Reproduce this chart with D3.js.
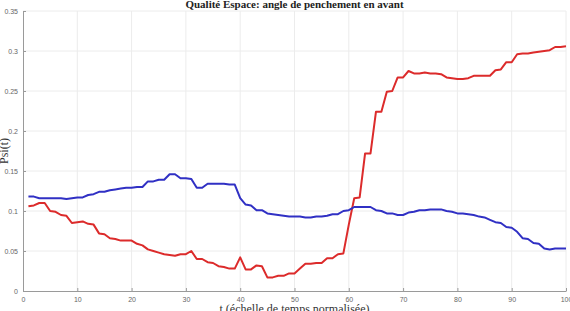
<!DOCTYPE html>
<html>
<head>
<meta charset="utf-8">
<script src="https://cdn.jsdelivr.net/npm/d3@7"></script>
<style>
    body { margin: 0; background: #fff; }
    svg { display: block; }
</style>
</head>
<body>
<svg id="chart"></svg>
<script>
const titleText = 'Qualité Espace: angle de penchement en avant';
const xLabelText = 't (échelle de temps normalisée)';
const yLabelText = 'Psi(t)';

const xTicks = [0, 10, 20, 30, 40, 50, 60, 70, 80, 90, 100];
const yTicks = [0, 0.05, 0.1, 0.15, 0.2, 0.25, 0.3, 0.35];

const timeSteps = d3.range(1, 101);

const blueValues = [
    0.118, 0.118, 0.116, 0.116, 0.116, 0.116, 0.116, 0.115, 0.116, 0.117,
    0.117, 0.120, 0.121, 0.124, 0.124, 0.126, 0.127, 0.128, 0.129, 0.129,
    0.130, 0.130, 0.137, 0.137, 0.139, 0.139, 0.146, 0.146, 0.141, 0.141,
    0.140, 0.129, 0.129, 0.134, 0.134, 0.134, 0.134, 0.133, 0.133, 0.116,
    0.108, 0.107, 0.101, 0.101, 0.097, 0.096, 0.095, 0.094, 0.093, 0.093,
    0.093, 0.092, 0.092, 0.093, 0.093, 0.094, 0.096, 0.096, 0.100, 0.101,
    0.105, 0.105, 0.105, 0.105, 0.101, 0.100, 0.097, 0.097, 0.095, 0.095,
    0.098, 0.099, 0.101, 0.101, 0.102, 0.102, 0.102, 0.100, 0.099, 0.097,
    0.097, 0.096, 0.095, 0.093, 0.092, 0.089, 0.086, 0.085, 0.080, 0.079,
    0.074, 0.066, 0.065, 0.060, 0.059, 0.053, 0.052, 0.053, 0.053, 0.053
];

const redValues = [
    0.106, 0.107, 0.110, 0.110, 0.100, 0.099, 0.095, 0.094, 0.085, 0.086,
    0.087, 0.084, 0.083, 0.072, 0.071, 0.066, 0.065, 0.063, 0.063, 0.063,
    0.059, 0.057, 0.052, 0.050, 0.048, 0.046, 0.045, 0.044, 0.046, 0.046,
    0.050, 0.040, 0.040, 0.036, 0.035, 0.031, 0.030, 0.028, 0.028, 0.042,
    0.027, 0.027, 0.032, 0.031, 0.017, 0.017, 0.019, 0.019, 0.022, 0.022,
    0.028, 0.034, 0.034, 0.035, 0.035, 0.041, 0.041, 0.046, 0.047, 0.083,
    0.116, 0.117, 0.172, 0.172, 0.224, 0.224, 0.249, 0.250, 0.267, 0.267,
    0.275, 0.272, 0.272, 0.273, 0.272, 0.272, 0.271, 0.267, 0.266, 0.265,
    0.265, 0.266, 0.269, 0.269, 0.269, 0.269, 0.276, 0.277, 0.286, 0.286,
    0.296, 0.297, 0.297, 0.298, 0.299, 0.300, 0.301, 0.305, 0.305, 0.306
];

const totalWidth = 570;
const totalHeight = 311;
const margin = { top: 11, right: 4, bottom: 20, left: 23 };
const width = totalWidth - margin.left - margin.right;
const height = totalHeight - margin.top - margin.bottom;

const svgRoot = d3.select('#chart')
    .attr('width', totalWidth)
    .attr('height', totalHeight);

const svg = svgRoot.append('g')
    .attr('transform', `translate(${margin.left},${margin.top})`);

const x = d3.scaleLinear().domain([0, 100]).range([0, width]);
const y = d3.scaleLinear().domain([0, 0.35]).range([height, 0]);

// grid
svg.append('g')
    .selectAll('line')
    .data(xTicks.slice(1))
    .enter()
    .append('line')
    .attr('x1', d => x(d)).attr('x2', d => x(d))
    .attr('y1', 0).attr('y2', height)
    .attr('stroke', '#ececec')
    .attr('stroke-width', 1);

svg.append('g')
    .selectAll('line')
    .data(yTicks.slice(1))
    .enter()
    .append('line')
    .attr('x1', 0).attr('x2', width)
    .attr('y1', d => y(d)).attr('y2', d => y(d))
    .attr('stroke', '#ececec')
    .attr('stroke-width', 1);

// axes, ticks inside like matlab
const xAxis = svg.append('g')
    .attr('transform', `translate(0,${height})`)
    .call(d3.axisBottom(x).tickValues(xTicks).tickSizeInner(-3).tickSizeOuter(0).tickPadding(6));

const yAxis = svg.append('g')
    .call(d3.axisLeft(y).tickValues(yTicks).tickFormat(d => d3.format('')(+d.toFixed(2))).tickSizeInner(-3).tickSizeOuter(0).tickPadding(5));

[xAxis, yAxis].forEach(axis => {
    axis.select('.domain').attr('stroke', '#9a9a9a');
    axis.selectAll('.tick line').attr('stroke', '#9a9a9a');
    axis.selectAll('.tick text')
        .attr('fill', '#666')
        .style('font-family', 'Liberation Sans, Arial, sans-serif')
        .style('font-size', '7px');
});

// lines
const line = d3.line()
    .x((d, i) => x(timeSteps[i]))
    .y(d => y(d));

svg.append('path')
    .datum(redValues)
    .attr('fill', 'none')
    .attr('stroke', '#dc2b2b')
    .attr('stroke-width', 2)
    .attr('stroke-linejoin', 'round')
    .attr('d', line);

svg.append('path')
    .datum(blueValues)
    .attr('fill', 'none')
    .attr('stroke', '#3030c4')
    .attr('stroke-width', 2)
    .attr('stroke-linejoin', 'round')
    .attr('d', line);

// labels
svgRoot.append('text')
    .attr('x', margin.left + width / 2)
    .attr('y', 8)
    .attr('text-anchor', 'middle')
    .style('font-family', 'Liberation Serif, Times New Roman, serif')
    .style('font-weight', 'bold')
    .style('font-size', '11px')
    .attr('fill', '#222')
    .text(titleText);

svgRoot.append('text')
    .attr('x', margin.left + width / 2)
    .attr('y', 313)
    .attr('text-anchor', 'middle')
    .style('font-family', 'Liberation Serif, Times New Roman, serif')
    .style('font-size', '12px')
    .attr('fill', '#333')
    .text(xLabelText);

svgRoot.append('text')
    .attr('transform', `translate(8,${margin.top + height / 2}) rotate(-90)`)
    .attr('text-anchor', 'middle')
    .style('font-family', 'Liberation Serif, Times New Roman, serif')
    .style('font-size', '12px')
    .attr('fill', '#333')
    .text(yLabelText);
</script>
</body>
</html>
